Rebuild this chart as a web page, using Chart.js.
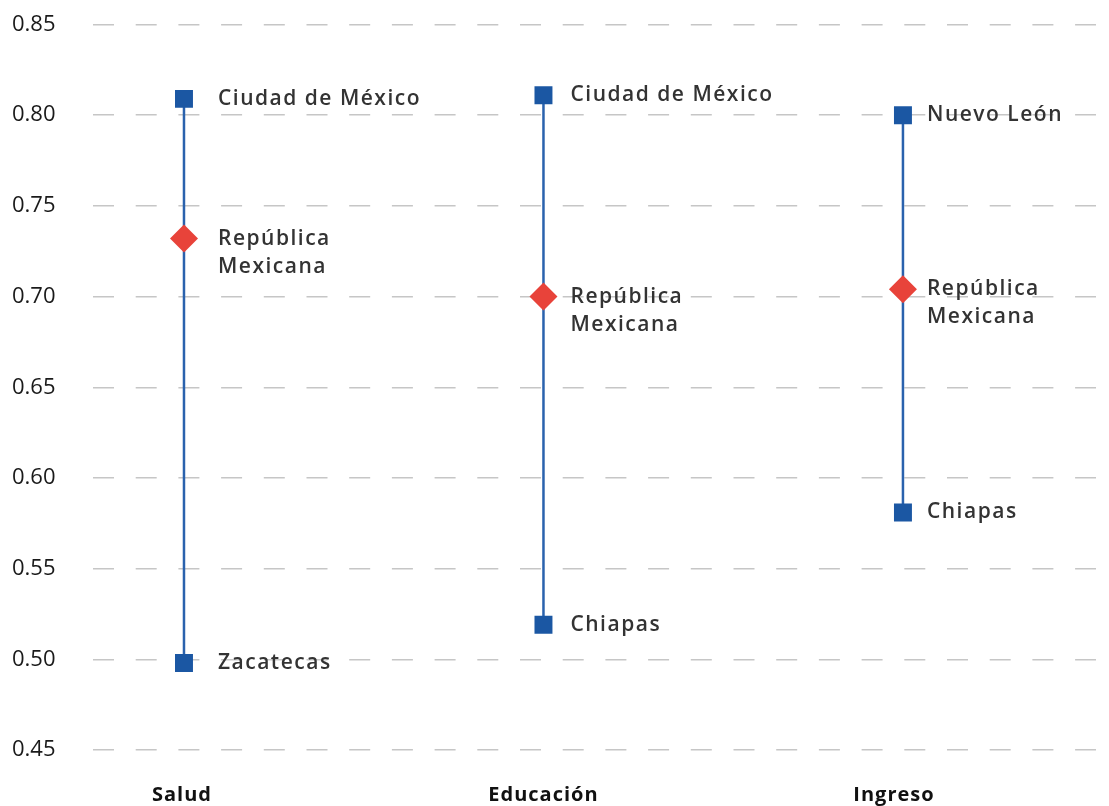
<!DOCTYPE html>
<html lang="es">
<head>
<meta charset="utf-8">
<title>Rango por dimensión</title>
<script src="https://cdn.jsdelivr.net/npm/chart.js@4.4.1/dist/chart.umd.min.js"></script>
<style>
  html, body { margin: 0; padding: 0; background: #fff; }
  #wrap { width: 1109px; height: 806px; position: relative; }
</style>
</head>
<body>
<div id="wrap"><canvas id="rangeChart"></canvas></div>
<script>
// --- Values per dimension ---
const categories = ['Salud', 'Educación', 'Ingreso'];
const maxValues = [0.809, 0.811, 0.800];
const maxStates = ['Ciudad de México', 'Ciudad de México', 'Nuevo León'];
const minValues = [0.498, 0.519, 0.581];
const minStates = ['Zacatecas', 'Chiapas', 'Chiapas'];
const nationalValues = [0.732, 0.700, 0.704];
const nationalLabel = ['República', 'Mexicana'];
const yTicks = [0.45, 0.50, 0.55, 0.60, 0.65, 0.70, 0.75, 0.80, 0.85];

// horizontal gap between a marker and its label, per column
const labelGap = [34, 27, 24];
const categoryShift = [-2, 0, -9];

const BLUE = '#1b57a3';
const RED = '#e8433a';
const FONT = '"Open Sans", Lato, sans-serif';

// vertical line for each dimension, min to max
const rangeSets = categories.map((c, i) => ({
  label: c,
  data: [{ x: i, y: minValues[i] }, { x: i, y: maxValues[i] }],
  showLine: true,
  borderColor: '#2a62ad',
  borderWidth: 2.5,
  pointRadius: 0,
  order: 3
}));

const extremes = {
  label: 'extremos',
  data: categories.flatMap((c, i) => [
    { x: i, y: maxValues[i], name: maxStates[i] },
    { x: i, y: minValues[i], name: minStates[i] }
  ]),
  pointStyle: 'rect',
  pointRadius: 12.7,
  pointHoverRadius: 12.7,
  backgroundColor: BLUE,
  borderColor: BLUE,
  borderWidth: 0,
  order: 2
};

const national = {
  label: 'nacional',
  data: categories.map((c, i) => ({ x: i, y: nationalValues[i], name: nationalLabel })),
  pointStyle: 'rectRot',
  pointRadius: 14,
  pointHoverRadius: 14,
  backgroundColor: RED,
  borderColor: RED,
  borderWidth: 0,
  order: 1
};

// state names next to each marker, dimension names under the axis
const textLabels = {
  id: 'textLabels',
  afterDatasetsDraw(chart) {
    const { ctx, chartArea, scales } = chart;
    ctx.save();
    ctx.font = '600 21px ' + FONT;
    ctx.letterSpacing = '1.5px';
    ctx.fillStyle = '#333333';
    ctx.textAlign = 'left';
    ctx.textBaseline = 'middle';
    [extremes, national].forEach(ds => {
      const meta = chart.getDatasetMeta(chart.data.datasets.indexOf(ds));
      meta.data.forEach((el, j) => {
        const pt = ds.data[j];
        const lines = Array.isArray(pt.name) ? pt.name : [pt.name];
        lines.forEach((t, k) => ctx.fillText(t, el.x + labelGap[pt.x], el.y + k * 28));
      });
    });

    ctx.font = '700 20px ' + FONT;
    ctx.letterSpacing = '1px';
    ctx.fillStyle = '#111111';
    ctx.textAlign = 'center';
    categories.forEach((c, i) => {
      ctx.fillText(c, scales.x.getPixelForValue(i) + categoryShift[i], chartArea.bottom + 45);
    });
    ctx.restore();
  }
};

new Chart(document.getElementById('rangeChart'), {
  type: 'scatter',
  data: { datasets: [...rangeSets, extremes, national] },
  options: {
    responsive: true,
    maintainAspectRatio: false,
    animation: false,
    layout: { autoPadding: false, padding: { left: 12, right: 13, top: 24.5, bottom: 56 } },
    plugins: { legend: { display: false }, tooltip: { enabled: false } },
    scales: {
      x: {
        type: 'linear',
        display: false,
        min: -0.2531,
        max: 2.537
      },
      y: {
        min: 0.45,
        max: 0.85,
        afterBuildTicks: axis => { axis.ticks = yTicks.map(v => ({ value: v })); },
        // fixed axis width; top/bottom space comes from layout padding
        afterFit: axis => {
          axis.width = 81;
          axis.paddingTop = 0;
          axis.paddingBottom = 0;
        },
        grid: { color: '#c6c6c6', lineWidth: 1.4, drawTicks: false },
        border: { display: false, dash: [21, 21.7] },
        ticks: {
          padding: 20,
          crossAlign: 'far',
          color: '#1a1a1a',
          font: { family: FONT, size: 22 },
          callback: v => v.toFixed(2)
        }
      }
    }
  },
  plugins: [textLabels]
});
</script>
</body>
</html>
